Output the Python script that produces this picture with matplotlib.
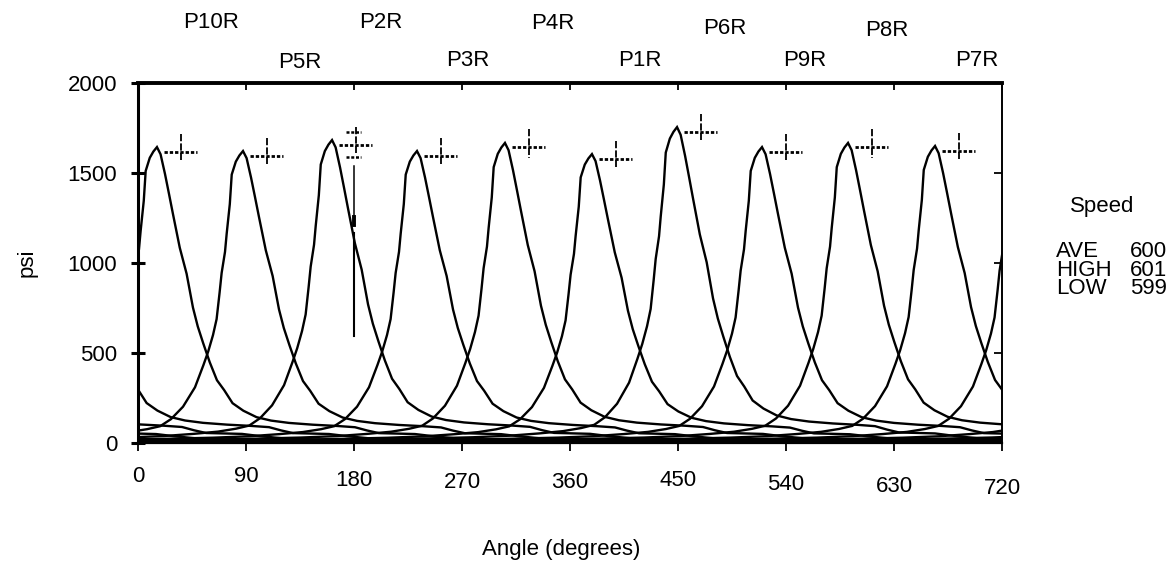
import numpy as np
import matplotlib
matplotlib.use("Agg")
import matplotlib.pyplot as plt
from matplotlib.transforms import blended_transform_factory

plt.rcParams['font.family'] = ['Liberation Sans', 'DejaVu Sans']

# Firing order and peak pressures of the ten power cylinders
cylinders = ["P10R", "P5R", "P2R", "P3R", "P4R", "P1R", "P6R", "P9R", "P8R", "P7R"]
peak_angle = [15.8, 87.5, 161.7, 232.5, 305.8, 378.3, 449.2, 520.0, 591.7, 664.2]
peak_psi = [1644, 1622, 1683, 1622, 1667, 1605, 1755, 1644, 1667, 1650]

# Typical pressure trace around the firing peak (angle relative to peak, psi)
profile_angle = [-360, -300, -220, -170, -140, -115, -95, -80, -69, -60, -50, -40,
                 -33, -29, -25, -22, -19.5, -17.8, -15, -13.6, -11, -9.4, -6, -3,
                 0, 3, 6.7, 10, 13.3, 19, 24.7, 30, 34, 38.6, 44, 50, 56, 63, 72,
                 83, 95, 110, 130, 150, 165, 175, 185, 215, 230, 250, 300, 360]
profile_psi = [8, 12, 22, 30, 38, 50, 62, 78, 95, 135, 205, 315,
               440, 517, 610, 700, 850, 961, 1080, 1183, 1350, 1517, 1590, 1625,
               1650, 1610, 1500, 1390, 1278, 1089, 944, 755, 650, 555, 450, 350, 295, 222, 180,
               144, 125, 112, 102, 95, 88, 70, 55, 50, 38, 25, 15, 8]
profile_peak = 1650

x_ticks = [0, 90, 180, 270, 360, 450, 540, 630, 720]
y_ticks = [0, 500, 1000, 1500, 2000]

speed_rows = ["AVE", "HIGH", "LOW"]
speed_vals = [600, 601, 599]

W, H = 1174, 565
FS = 16
fig = plt.figure(figsize=(W / 100, H / 100), dpi=100)
ax = fig.add_axes([138 / W, 1 - 443 / H, 864 / W, 360 / H])

lw = 1.7
for ang, pk in zip(peak_angle, peak_psi):
    scale = pk / profile_peak
    y = np.array(profile_psi) * scale
    for shift in (-720, 0, 720):
        x = np.array(profile_angle) + ang + shift
        ax.plot(x, y, color='black', lw=lw, solid_joinstyle='miter')
    # peak readout marker
    ax.plot([ang + 6, ang + 33], [pk - 25, pk - 25], color='black', lw=2.0,
            ls=(0, (1.2, 0.7)))
    ax.plot([ang + 20, ang + 20], [pk + 75, pk - 85], color='black', lw=1.3,
            ls=(0, (4, 1.2)))

# extra readout rows and reference line at 180 degrees
ref_pk = peak_psi[2]
ax.plot([173, 186], [ref_pk + 45, ref_pk + 45], color='black', lw=1.8, ls=(0, (1.2, 0.7)))
ax.plot([173, 186], [ref_pk - 95, ref_pk - 95], color='black', lw=1.8, ls=(0, (1.2, 0.7)))
ax.plot([180, 180], [1540, 1255], color='black', lw=1.1)
ax.plot([180, 180], [1255, 1210], color='black', lw=2.8)
ax.plot([180, 180], [1165, 595], color='black', lw=1.5)

ax.set_xlim(0, 720)
ax.set_ylim(0, 2000)

for side, w in (('left', 2.2), ('top', 2.8), ('right', 1.4), ('bottom', 1.6)):
    ax.spines[side].set_linewidth(w)

ax.set_yticks(y_ticks)
ax.tick_params(axis='y', direction='inout', length=10, width=2.2, pad=10,
               labelsize=FS)
ax.set_xticks(x_ticks)
ax.tick_params(axis='x', direction='out', length=6, width=1.3, labelbottom=False)

top = ax.secondary_xaxis('top')
top.set_xticks(x_ticks)
top.tick_params(direction='in', length=5, width=1.3, labeltop=False)
top.spines['top'].set_visible(False)
right = ax.secondary_yaxis('right')
right.set_yticks(y_ticks)
right.tick_params(direction='in', length=6, width=1.3, labelright=False)
right.spines['right'].set_visible(False)

# staggered angle labels
bt = blended_transform_factory(ax.transData, ax.transAxes)
x_label_px = [476, 477, 480, 483, 482, 480, 484, 487, 489]
for xv, ypx in zip(x_ticks, x_label_px):
    ax.text(xv, (443 - ypx) / 360, str(xv), transform=bt, ha='center', va='center',
            fontsize=FS)

# cylinder names above their traces
name_x = [61, 135, 202, 275, 346, 418, 489, 556, 624, 699]
name_y_px = [23, 62, 23, 60, 24, 60, 28, 60, 30, 61]
for name, xv, ypx in zip(cylinders, name_x, name_y_px):
    ax.text(xv, (443 - ypx) / 360, name, transform=bt, ha='center', va='center',
            fontsize=FS)

ax.set_ylabel("psi", fontsize=FS)
ax.yaxis.set_label_coords(-0.116, 0.5)
fig.text(561 / W, 1 - 550 / H, "Angle (degrees)", ha='center', va='center', fontsize=FS)

# speed summary block
fig.text(1102 / W, 1 - 206 / H, "Speed", ha='center', va='center', fontsize=FS)
fig.text(1056 / W, 1 - 270 / H, "\n".join(speed_rows), ha='left', va='center',
         fontsize=FS, linespacing=0.82, multialignment='left')
fig.text(1167 / W, 1 - 270 / H, "\n".join(str(v) for v in speed_vals), ha='right',
         va='center', fontsize=FS, linespacing=0.82, multialignment='right')

fig.savefig("out.png", dpi=100)
